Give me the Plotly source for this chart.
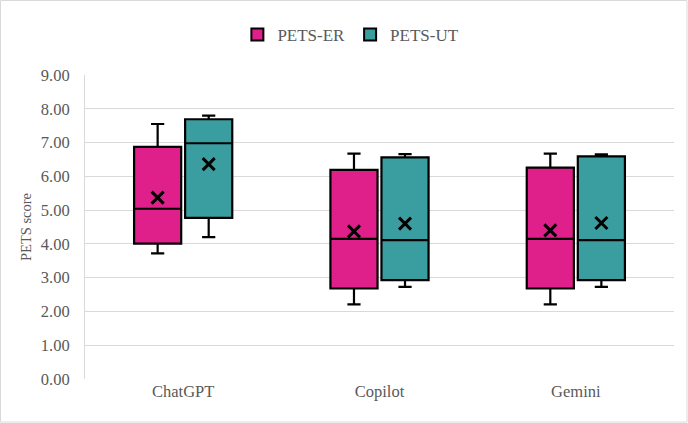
import plotly.graph_objects as go

categories = ["ChatGPT", "Copilot", "Gemini"]

er_low = [3.72, 2.21, 2.21]
er_q1 = [4.01, 2.68, 2.68]
er_med = [5.04, 4.15, 4.15]
er_q3 = [6.87, 6.19, 6.26]
er_high = [7.55, 6.67, 6.67]
er_mean = [5.37, 4.37, 4.40]

ut_low = [4.20, 2.73, 2.73]
ut_q1 = [4.77, 2.93, 2.93]
ut_med = [6.98, 4.11, 4.11]
ut_q3 = [7.69, 6.56, 6.59]
ut_high = [7.80, 6.66, 6.65]
ut_mean = [6.36, 4.60, 4.62]

y_ticks = [0, 1, 2, 3, 4, 5, 6, 7, 8, 9]

PINK = "#DF1F8A"
TEAL = "#3A9D9F"
FONT = "Liberation Serif, Times New Roman, serif"
GRAY = "#595959"

idx = list(range(len(categories)))
off = 0.13
bw = 0.24

fig = go.Figure()

series = [
    ("PETS-ER", -off, PINK, er_low, er_q1, er_med, er_q3, er_high, er_mean),
    ("PETS-UT", off, TEAL, ut_low, ut_q1, ut_med, ut_q3, ut_high, ut_mean),
]

for name, o, col, lo, q1, med, q3, hi, mn in series:
    xs = [i + o for i in idx]
    fig.add_trace(go.Box(
        name=name, x=xs, q1=q1, median=med, q3=q3,
        lowerfence=lo, upperfence=hi,
        fillcolor=col, line=dict(color="black", width=2.2),
        width=bw, whiskerwidth=0.28, boxpoints=False,
        hoverinfo="skip",
    ))

for name, o, col, lo, q1, med, q3, hi, mn in series:
    xs = [i + o for i in idx]
    fig.add_trace(go.Scatter(
        x=xs, y=mn, mode="markers", showlegend=False,
        marker=dict(symbol="x-thin", size=12, color="black",
                    line=dict(color="black", width=3)),
        hoverinfo="skip",
    ))

W, H = 688, 423
ml, mr, mt, mb = 85, 14, 75, 44
pw = W - ml - mr
ph = H - mt - mb

fig.update_layout(
    width=W, height=H,
    margin=dict(l=ml, r=mr, t=mt, b=mb),
    paper_bgcolor="white", plot_bgcolor="white",
    font=dict(family=FONT, size=16, color=GRAY),
    showlegend=True,
    legend=dict(
        orientation="h", xref="container", yref="container",
        x=0.51, xanchor="center", y=1 - 35 / H, yanchor="middle",
        font=dict(family=FONT, size=17, color=GRAY),
        itemsizing="constant",
    ),
    xaxis=dict(
        range=[-0.5, 2.5], tickvals=idx, ticktext=categories,
        showgrid=False, zeroline=False, showline=False,
        ticks="", tickfont=dict(family=FONT, size=16.5, color=GRAY),
    ),
    yaxis=dict(
        range=[0, 9], tickvals=y_ticks,
        ticktext=[f"{v:.2f}" for v in y_ticks],
        showgrid=True, gridcolor="#D9D9D9", gridwidth=1,
        zeroline=False, showline=True, linecolor="#D9D9D9", linewidth=1,
        ticks="", ticklabelstandoff=11,
        tickfont=dict(family=FONT, size=16.5, color=GRAY),
        title=dict(text="PETS score", font=dict(family=FONT, size=14.5, color=GRAY), standoff=5),
    ),
    shapes=[dict(
        type="rect", xref="paper", yref="paper",
        x0=-ml / pw + 0.5 / pw, x1=1 + (mr - 1) / pw,
        y0=-(mb - 1) / ph, y1=1 + (mt - 0.5) / ph,
        line=dict(color="#D9D9D9", width=1), fillcolor="rgba(0,0,0,0)",
        layer="below",
    )],
)

fig.write_html("out.html")
